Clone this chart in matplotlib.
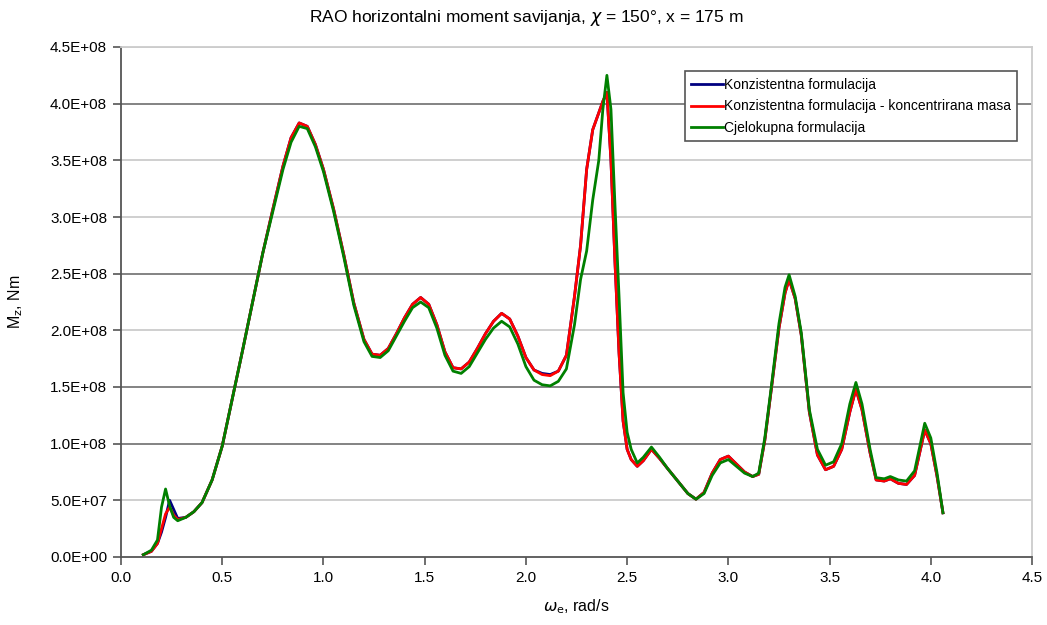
import numpy as np
import matplotlib
matplotlib.use("Agg")
import matplotlib.pyplot as plt
from matplotlib.ticker import FormatStrFormatter, FuncFormatter

plt.rcParams['font.family'] = ['Liberation Sans', 'DejaVu Sans']
plt.rcParams['mathtext.fontset'] = 'dejavusans'

# frequency, rad/s
omega = [0.11, 0.15, 0.18, 0.20, 0.22, 0.24, 0.26, 0.28, 0.32, 0.36,
         0.40, 0.45, 0.50, 0.55, 0.60, 0.65, 0.70, 0.75, 0.80, 0.84,
         0.88, 0.92, 0.96, 1.00, 1.05, 1.10, 1.15, 1.20, 1.24, 1.28,
         1.32, 1.36, 1.40, 1.44, 1.48, 1.52, 1.56, 1.60, 1.64, 1.68,
         1.72, 1.76, 1.80, 1.84, 1.88, 1.92, 1.96, 2.00, 2.04, 2.08,
         2.12, 2.16, 2.20, 2.24, 2.27, 2.30, 2.33, 2.36, 2.38, 2.40,
         2.42, 2.44, 2.46, 2.48, 2.50, 2.52, 2.55, 2.58, 2.62, 2.66,
         2.70, 2.75, 2.80, 2.84, 2.88, 2.92, 2.96, 3.00, 3.04, 3.08,
         3.12, 3.15, 3.18, 3.21, 3.25, 3.28, 3.30, 3.33, 3.36, 3.40,
         3.44, 3.48, 3.52, 3.56, 3.60, 3.63, 3.66, 3.70, 3.73, 3.77,
         3.80, 3.84, 3.88, 3.92, 3.97, 4.00, 4.03, 4.06]

# Mz, units of 1E+08 Nm
cjelokupna = [0.02, 0.06, 0.15, 0.44, 0.60, 0.45, 0.35, 0.32, 0.35, 0.40,
              0.48, 0.68, 0.98, 1.40, 1.82, 2.25, 2.68, 3.05, 3.42, 3.66,
              3.80, 3.78, 3.62, 3.40, 3.05, 2.65, 2.22, 1.90, 1.77, 1.76,
              1.82, 1.95, 2.08, 2.20, 2.25, 2.20, 2.02, 1.78, 1.64, 1.62,
              1.68, 1.80, 1.92, 2.02, 2.08, 2.03, 1.88, 1.68, 1.56, 1.52,
              1.51, 1.55, 1.66, 2.05, 2.45, 2.70, 3.15, 3.50, 3.95, 4.25,
              3.95, 3.10, 2.30, 1.45, 1.10, 0.95, 0.83, 0.88, 0.97, 0.88,
              0.78, 0.67, 0.56, 0.51, 0.56, 0.72, 0.83, 0.86, 0.80, 0.74,
              0.71, 0.74, 1.05, 1.47, 2.06, 2.38, 2.49, 2.30, 1.98, 1.30,
              0.95, 0.81, 0.84, 1.00, 1.35, 1.54, 1.35, 0.95, 0.70, 0.69,
              0.71, 0.68, 0.67, 0.76, 1.18, 1.05, 0.75, 0.39]

koncentrirana = [0.02, 0.05, 0.12, 0.25, 0.38, 0.44, 0.37, 0.33, 0.35, 0.40,
                 0.48, 0.68, 0.98, 1.40, 1.82, 2.25, 2.68, 3.07, 3.45, 3.70,
                 3.83, 3.80, 3.64, 3.42, 3.07, 2.67, 2.24, 1.92, 1.79, 1.78,
                 1.84, 1.97, 2.11, 2.23, 2.29, 2.23, 2.05, 1.81, 1.67, 1.66,
                 1.72, 1.84, 1.97, 2.08, 2.15, 2.10, 1.95, 1.76, 1.65, 1.61,
                 1.60, 1.64, 1.78, 2.30, 2.75, 3.42, 3.77, 3.92, 4.02, 4.10,
                 3.50, 2.60, 1.80, 1.20, 0.95, 0.86, 0.80, 0.85, 0.95, 0.87,
                 0.78, 0.67, 0.56, 0.51, 0.57, 0.74, 0.86, 0.89, 0.82, 0.75,
                 0.71, 0.73, 1.03, 1.45, 2.02, 2.33, 2.45, 2.28, 1.96, 1.28,
                 0.90, 0.77, 0.80, 0.95, 1.28, 1.48, 1.30, 0.92, 0.68, 0.67,
                 0.69, 0.65, 0.64, 0.72, 1.12, 1.00, 0.72, 0.39]

konzistentna = [0.02, 0.05, 0.12, 0.22, 0.35, 0.50, 0.42, 0.34, 0.35, 0.40,
                0.48, 0.68, 0.98, 1.40, 1.82, 2.25, 2.68, 3.07, 3.45, 3.70,
                3.83, 3.80, 3.64, 3.42, 3.07, 2.67, 2.24, 1.92, 1.79, 1.78,
                1.84, 1.97, 2.11, 2.23, 2.29, 2.23, 2.05, 1.81, 1.67, 1.66,
                1.72, 1.84, 1.97, 2.08, 2.15, 2.10, 1.95, 1.76, 1.65, 1.62,
                1.61, 1.64, 1.78, 2.30, 2.75, 3.42, 3.77, 3.92, 4.02, 4.10,
                3.50, 2.60, 1.80, 1.20, 0.95, 0.86, 0.80, 0.85, 0.95, 0.87,
                0.78, 0.67, 0.56, 0.51, 0.57, 0.74, 0.86, 0.89, 0.82, 0.75,
                0.71, 0.73, 1.03, 1.45, 2.02, 2.33, 2.45, 2.28, 1.96, 1.28,
                0.90, 0.77, 0.80, 0.95, 1.28, 1.48, 1.30, 0.92, 0.68, 0.67,
                0.69, 0.65, 0.64, 0.72, 1.12, 1.00, 0.72, 0.39]

labels = ["Konzistentna formulacija",
          "Konzistentna formulacija - koncentrirana masa",
          "Cjelokupna formulacija"]

x = np.array(omega)
scale = 1e8

fig = plt.figure(figsize=(10.47, 6.25), dpi=100)
ax = fig.add_axes([0.1156, 0.1088, 0.8701, 0.816])

# gridlines (some darker, as in the original rendering)
dark = [1.0e8, 1.5e8, 2.5e8, 4.0e8]
for yv in np.arange(0.5e8, 4.51e8, 0.5e8):
    c = '#7a7a7a' if any(abs(yv - d) < 1 for d in dark) else '#cccccc'
    ax.axhline(yv, color=c, lw=1.3, zorder=0)

ax.plot(x, np.array(konzistentna) * scale, color='#000080', lw=2.0, label=labels[0])
ax.plot(x, np.array(koncentrirana) * scale, color='#ff0000', lw=2.0, label=labels[1])
ax.plot(x, np.array(cjelokupna) * scale, color='#008000', lw=2.0, label=labels[2])

ax.set_xlim(0, 4.5)
ax.set_ylim(0, 4.5e8)
ax.set_xticks(np.arange(0, 4.51, 0.5))
ax.set_yticks(np.arange(0, 4.51e8, 0.5e8))
ax.xaxis.set_major_formatter(FormatStrFormatter('%.1f'))
ax.yaxis.set_major_formatter(FuncFormatter(lambda v, p: '%.1E' % v))
ax.tick_params(axis='both', labelsize=11, direction='out', length=6,
               width=1.2, color='#555555', pad=4)

for s in ['left', 'bottom']:
    ax.spines[s].set_color('#555555')
    ax.spines[s].set_linewidth(1.3)
for s in ['top', 'right']:
    ax.spines[s].set_color('#cccccc')
    ax.spines[s].set_linewidth(1.3)

fig.text(0.503, 0.972, r'RAO horizontalni moment savijanja, $\chi$ = 150°, x = 175 m',
         fontsize=12.5, ha='center', va='center')
ax.set_xlabel(r'$\omega_{\mathrm{e}}$, rad/s', fontsize=11.5, labelpad=9)
ax.set_ylabel(r'M$_{\mathrm{z}}$, Nm', fontsize=11.5, labelpad=18)

leg = ax.legend(loc='upper right', bbox_to_anchor=(0.984, 0.952), fontsize=10,
                frameon=True, fancybox=False, framealpha=1, borderpad=0.45,
                handlelength=2.3, handletextpad=0.1, labelspacing=0.55,
                borderaxespad=0)
leg.get_frame().set_edgecolor('#555555')
leg.get_frame().set_linewidth(1.2)

fig.savefig('out.png', dpi=100)
